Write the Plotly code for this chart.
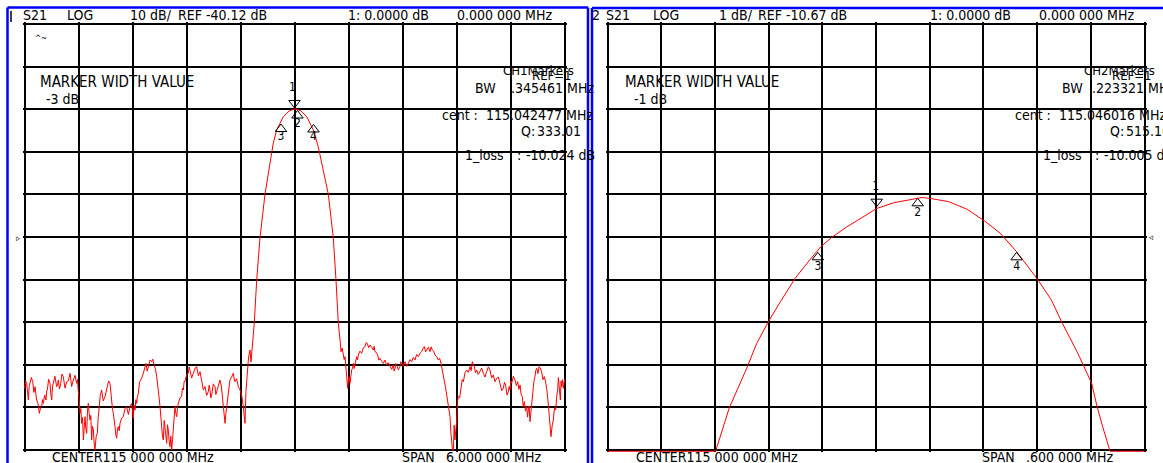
import plotly.graph_objects as go

W, H = 1163, 463

# ---------------- DATA ----------------
# CH1: S21 LOG, 10 dB/div, REF -40.12 dB, center 115 MHz, span 6 MHz  (freq MHz, dB)
ch1_points = [
    (112.000, -75.65), (112.012, -73.9), (112.024, -74.47), (112.034, -77.0), (112.043, -78.38),
    (112.052, -75.2), (112.061, -74.47), (112.076, -73.1), (112.091, -74.08), (112.104, -76.6),
    (112.117, -75.25), (112.126, -77.5), (112.135, -78.38), (112.150, -79.2), (112.165, -81.51),
    (112.178, -80.2), (112.191, -79.95), (112.200, -78.3), (112.209, -79.17), (112.224, -77.2),
    (112.239, -78.38), (112.247, -76.2), (112.254, -76.04), (112.268, -73.5), (112.283, -74.47),
    (112.292, -76.9), (112.302, -78.38), (112.311, -75.3), (112.320, -74.47), (112.338, -72.8),
    (112.357, -75.25), (112.366, -74.9), (112.376, -73.69), (112.389, -75.8), (112.402, -74.47),
    (112.416, -72.3), (112.431, -72.91), (112.450, -75.6), (112.469, -74.08), (112.487, -73.9),
    (112.506, -72.12), (112.524, -75.2), (112.543, -73.69), (112.561, -72.6), (112.580, -74.47),
    (112.589, -73.6), (112.598, -76.43), (112.607, -78.0), (112.617, -81.51), (112.626, -80.4),
    (112.635, -83.86), (112.645, -82.5), (112.654, -87.77), (112.663, -84.0), (112.672, -82.30),
    (112.681, -85.0), (112.691, -86.21), (112.700, -81.0), (112.709, -79.17), (112.718, -81.5),
    (112.728, -83.08), (112.737, -82.0), (112.746, -87.77), (112.755, -84.5), (112.765, -85.43),
    (112.774, -88.5), (112.783, -90.12), (112.796, -87.0), (112.809, -86.21), (112.818, -82.8),
    (112.828, -79.56), (112.842, -77.3), (112.857, -76.04), (112.875, -78.6), (112.894, -77.60),
    (112.907, -76.2), (112.920, -75.65), (112.935, -73.9), (112.950, -74.47), (112.959, -76.9),
    (112.969, -77.99), (112.978, -80.6), (112.987, -81.51), (112.996, -83.9), (113.006, -84.64),
    (113.015, -86.6), (113.024, -87.38), (113.033, -85.2), (113.043, -84.64), (113.052, -85.6),
    (113.061, -83.86), (113.080, -82.6), (113.098, -82.30), (113.117, -80.4), (113.135, -79.95),
    (113.154, -81.8), (113.172, -79.95), (113.190, -79.2), (113.209, -82.69), (113.218, -79.6),
    (113.228, -80.73), (113.237, -78.3), (113.246, -79.17), (113.255, -77.5), (113.265, -76.82),
    (113.278, -74.2), (113.291, -73.69), (113.305, -73.1), (113.320, -72.12), (113.335, -70.5),
    (113.350, -69.78), (113.363, -71.6), (113.376, -70.56), (113.395, -69.0), (113.413, -69.39),
    (113.426, -68.8), (113.439, -70.17), (113.454, -71.0), (113.469, -72.91), (113.478, -74.4),
    (113.487, -75.25), (113.497, -78.1), (113.506, -79.95), (113.515, -81.6), (113.524, -84.64),
    (113.533, -86.9), (113.543, -87.77), (113.552, -83.2), (113.561, -84.64), (113.570, -86.3),
    (113.580, -88.56), (113.589, -84.2), (113.598, -85.43), (113.607, -88.0), (113.617, -89.34),
    (113.626, -86.9), (113.635, -90.12), (113.645, -87.6), (113.654, -84.64), (113.663, -81.2),
    (113.672, -79.95), (113.681, -81.4), (113.691, -82.30), (113.700, -80.4), (113.709, -79.17),
    (113.728, -77.9), (113.746, -77.60), (113.755, -75.6), (113.765, -76.04), (113.774, -74.0),
    (113.783, -74.08), (113.802, -72.4), (113.820, -72.12), (113.830, -70.6), (113.839, -71.34),
    (113.857, -73.2), (113.876, -72.12), (113.895, -70.9), (113.913, -70.56), (113.932, -72.7),
    (113.950, -71.73), (113.960, -73.1), (113.969, -73.69), (113.987, -76.0), (114.006, -75.25),
    (114.024, -77.3), (114.043, -76.43), (114.052, -74.9), (114.061, -76.04), (114.070, -77.9),
    (114.080, -77.21), (114.098, -74.6), (114.117, -75.25), (114.126, -77.1), (114.135, -76.43),
    (114.154, -74.9), (114.172, -73.69), (114.187, -75.1), (114.202, -77.99), (114.215, -80.2),
    (114.228, -83.86), (114.237, -81.6), (114.246, -79.95), (114.255, -78.6), (114.265, -77.21),
    (114.274, -74.9), (114.283, -73.69), (114.301, -73.0), (114.320, -72.12), (114.329, -73.4),
    (114.339, -74.08), (114.357, -73.4), (114.376, -75.25), (114.394, -76.0), (114.413, -77.21),
    (114.431, -79.95), (114.450, -83.86), (114.460, -76.5), (114.469, -72.91), (114.487, -68.99),
    (114.496, -67.6), (114.506, -66.65), (114.517, -69.46), (114.536, -65.47),
    # main passband lobe
    (114.553, -60.31), (114.580, -50.21), (114.617, -40.28), (114.672, -30.10), (114.764, -18.12),
    (114.802, -15.00), (114.876, -11.88), (114.940, -10.55), (115.006, -10.02), (115.070, -10.50),
    (115.136, -11.88), (115.209, -15.00), (115.264, -18.92), (115.376, -30.10), (115.431, -40.28),
    (115.461, -50.21), (115.487, -60.38), (115.510, -65.08),
    # upper stopband
    (115.517, -67.04), (115.530, -66.2), (115.543, -67.43), (115.552, -68.9), (115.561, -68.21),
    (115.570, -70.5), (115.580, -72.12), (115.591, -75.64), (115.598, -73.8), (115.606, -72.90),
    (115.617, -74.47), (115.626, -72.5), (115.635, -71.34), (115.645, -70.9), (115.654, -69.77),
    (115.663, -71.0), (115.672, -70.17), (115.681, -68.6), (115.691, -68.21), (115.700, -69.0),
    (115.709, -67.82), (115.727, -66.9), (115.746, -67.43), (115.765, -66.1), (115.783, -65.86),
    (115.796, -64.9), (115.809, -65.08), (115.824, -66.1), (115.839, -65.47), (115.857, -66.0),
    (115.876, -66.64), (115.885, -65.8), (115.894, -67.04), (115.909, -67.2), (115.924, -67.82),
    (115.937, -69.0), (115.950, -68.60), (115.968, -69.3), (115.987, -69.77), (116.005, -69.0),
    (116.024, -70.17), (116.042, -69.6), (116.061, -70.56), (116.080, -71.2), (116.098, -70.17),
    (116.107, -71.6), (116.117, -70.95), (116.126, -69.8), (116.135, -70.17), (116.154, -71.3),
    (116.172, -70.56), (116.182, -69.4), (116.191, -69.77), (116.210, -70.4), (116.228, -69.38),
    (116.246, -70.5), (116.265, -69.77), (116.283, -68.9), (116.302, -69.38), (116.320, -68.4),
    (116.339, -68.99), (116.357, -67.7), (116.376, -68.21), (116.395, -67.4), (116.413, -67.04),
    (116.428, -66.2), (116.443, -65.86), (116.456, -67.1), (116.469, -66.64), (116.488, -66.0),
    (116.506, -67.04), (116.518, -65.9), (116.531, -66.64), (116.546, -66.9), (116.561, -67.82),
    (116.580, -68.2), (116.598, -68.99), (116.613, -68.6), (116.628, -69.77), (116.641, -71.0),
    (116.654, -72.90), (116.667, -74.2), (116.680, -75.64), (116.691, -77.4), (116.702, -78.38),
    (116.715, -80.9), (116.728, -82.29), (116.737, -85.9), (116.746, -88.55), (116.755, -90.12),
    (116.765, -90.12), (116.774, -84.3), (116.783, -87.77), (116.792, -85.6), (116.802, -83.08),
    (116.811, -78.9), (116.820, -77.60), (116.835, -77.9), (116.850, -76.03), (116.863, -73.6),
    (116.876, -74.08), (116.895, -72.0), (116.913, -71.34), (116.931, -71.9), (116.950, -70.56),
    (116.963, -71.5), (116.976, -69.38), (116.987, -70.1), (116.998, -70.56), (117.011, -72.0),
    (117.024, -71.34), (117.042, -72.4), (117.061, -71.73), (117.080, -70.9), (117.098, -72.12),
    (117.117, -73.0), (117.135, -71.73), (117.154, -70.6), (117.172, -71.34), (117.190, -73.2),
    (117.209, -72.51), (117.228, -74.1), (117.246, -73.30), (117.265, -73.0), (117.283, -74.47),
    (117.302, -76.2), (117.320, -75.64), (117.333, -74.2), (117.346, -74.86), (117.361, -77.2),
    (117.376, -76.43), (117.385, -75.2), (117.394, -76.03), (117.404, -73.9), (117.413, -74.47),
    (117.432, -72.8), (117.450, -73.69), (117.465, -75.0), (117.480, -74.08), (117.493, -75.9),
    (117.506, -74.86), (117.518, -77.0), (117.531, -77.60), (117.542, -80.0), (117.554, -78.77),
    (117.567, -81.0), (117.580, -79.95), (117.589, -82.4), (117.598, -80.73), (117.607, -79.8),
    (117.617, -83.47), (117.626, -81.0), (117.635, -79.56), (117.645, -76.9), (117.654, -75.25),
    (117.663, -73.6), (117.672, -72.90), (117.681, -71.4), (117.691, -70.95), (117.704, -72.2),
    (117.717, -70.56), (117.731, -70.9), (117.746, -71.73), (117.761, -73.6), (117.776, -72.90),
    (117.789, -74.1), (117.802, -75.64), (117.815, -78.2), (117.828, -81.51), (117.839, -84.6),
    (117.850, -86.99), (117.863, -84.4), (117.876, -83.08), (117.889, -80.2), (117.902, -80.73),
    (117.913, -77.6), (117.924, -76.03), (117.932, -73.1), (117.939, -74.47), (117.947, -76.3),
    (117.954, -78.38), (117.962, -73.9), (117.969, -75.25), (117.978, -73.6), (117.987, -75.64),
    (118.000, -73.50),
]
ch1_freq = [p[0] for p in ch1_points]
ch1_db = [p[1] for p in ch1_points]

# CH1 marker symbols (freq, dB) and labels
ch1_mk_freq = [115.000, 115.033, 114.850, 115.211]
ch1_mk_db = [-8.66, -11.60, -14.77, -14.88]
ch1_lbl_freq = [114.978, 115.033, 114.850, 115.211]
ch1_lbl_db = [-5.14, -13.71, -16.76, -16.76]

# CH2: S21 LOG, 1 dB/div, REF -10.67 dB, center 115 MHz, span 0.6 MHz
ch2_points = [
    (114.7000, -15.70), (114.8208, -15.70), (114.8359, -14.69), (114.8564, -13.71), (114.8666, -13.17),
    (114.8797, -12.66), (114.8932, -12.19), (114.9096, -11.64), (114.9259, -11.21), (114.9382, -10.90),
    (114.9505, -10.68), (114.9668, -10.44), (114.9832, -10.23), (115.0008, -10.00), (115.0200, -9.865),
    (115.0405, -9.778), (115.0514, -9.743), (115.0609, -9.766), (115.0813, -9.841), (115.1018, -10.02),
    (115.1211, -10.29), (115.1387, -10.58), (115.1571, -11.015), (115.1804, -11.66), (115.1960, -12.15),
    (115.2083, -12.70), (115.2246, -13.36), (115.2409, -14.10), (115.2470, -14.65), (115.2532, -15.12),
    (115.2615, -15.70), (115.3000, -15.70),
]
ch2_freq = [p[0] for p in ch2_points]
ch2_db = [p[1] for p in ch2_points]

ch2_mk_freq = [115.0008, 115.0466, 114.9350, 115.1571]
ch2_mk_db = [-9.841, -9.879, -11.147, -11.147]
ch2_lbl_freq = [114.9996, 115.0466, 114.9350, 115.1571]
ch2_lbl_db = [-9.503, -10.114, -11.367, -11.367]

marker_labels = ["1", "2", "3", "4"]

# ---------------- FIGURE ----------------
FONT = "DejaVu Sans Condensed, Liberation Sans Narrow, sans-serif"
RED = "#ff0000"
BLUE = "#0000ff"

fig = go.Figure()

fig.add_trace(go.Scatter(x=ch1_freq, y=ch1_db, mode="lines",
                         line=dict(color=RED, width=1), xaxis="x", yaxis="y",
                         showlegend=False, hoverinfo="skip"))
fig.add_trace(go.Scatter(x=ch2_freq, y=ch2_db, mode="lines",
                         line=dict(color=RED, width=1), xaxis="x2", yaxis="y2",
                         showlegend=False, hoverinfo="skip"))

symbols = ["triangle-down-open", "triangle-up-open", "triangle-up-open", "triangle-up-open"]
for xs, ys, lx, ly, ax, ay in [
    (ch1_mk_freq, ch1_mk_db, ch1_lbl_freq, ch1_lbl_db, "x", "y"),
    (ch2_mk_freq, ch2_mk_db, ch2_lbl_freq, ch2_lbl_db, "x2", "y2"),
]:
    fig.add_trace(go.Scatter(x=xs, y=ys, mode="markers", xaxis=ax, yaxis=ay,
                             marker=dict(symbol=symbols, size=10, color="black",
                                         line=dict(color="black", width=1)),
                             showlegend=False, hoverinfo="skip"))
    fig.add_trace(go.Scatter(x=lx, y=ly, mode="text", text=marker_labels, xaxis=ax, yaxis=ay,
                             textfont=dict(family=FONT, size=12, color="black"),
                             textposition="middle center",
                             showlegend=False, hoverinfo="skip"))


def dom_x(p0, p1):
    return [p0 / W, p1 / W]


def dom_y(p_top, p_bot):
    return [(H - p_bot) / H, (H - p_top) / H]


grid_common = dict(showgrid=True, gridcolor="black", gridwidth=2, zeroline=False,
                   showticklabels=False, ticks="", showline=False, fixedrange=True)

# ranges extended by 2 px so the edge grid lines are fully drawn
fig.update_layout(
    xaxis=dict(domain=dom_x(22.5, 566.5), range=[112 - 2 / 90, 118 + 2 / 90],
               tick0=112, dtick=0.6, **grid_common),
    yaxis=dict(domain=dom_y(22, 452), range=[-90.12 - 2 * 0.2347, 9.88 + 2 * 0.2347],
               tick0=-90.12, dtick=10, **grid_common),
    xaxis2=dict(domain=dom_x(605.5, 1146.5), range=[114.7 - 2 / 895, 115.3 + 2 / 895],
                tick0=114.7, dtick=0.06, anchor="y2", **grid_common),
    yaxis2=dict(domain=dom_y(22, 452), range=[-15.67 - 2 * 0.02347, -5.67 + 2 * 0.02347],
                tick0=-15.67, dtick=1, anchor="x2", **grid_common),
    width=W, height=H,
    margin=dict(l=0, r=0, t=0, b=0),
    paper_bgcolor="white", plot_bgcolor="white",
    showlegend=False,
)

# ---------------- TEXT ----------------
texts = [
    # left screen
    ("S21", 21, 15, 14), ("LOG", 65, 15, 14), ("10 dB/", 128, 15, 14), ("REF -40.12 dB", 176, 15, 14),
    ("1: 0.0000 dB", 346, 15, 14), ("0.000 000 MHz", 455, 15, 14),
    ("MARKER WIDTH VALUE", 38, 82, 15), ("-3 dB", 44, 99, 14),
    ("CH1Markers", 501, 70, 13), ("REF=1", 530, 76, 13),
    ("BW", 473, 88, 14), (".345461 MHz", 509, 88, 14),
    ("cent :", 440, 115, 14), ("115.042477 MHz", 484, 115, 14),
    ("Q:", 519, 131, 14), ("333.01", 535, 131, 14),
    ("1_loss", 463, 155, 14), (":", 515, 155, 14), ("-10.024 dB", 524, 155, 14),
    ("CENTER115 000 000 MHz", 50, 457, 14), ("SPAN", 400, 457, 14), ("6.000 000 MHz", 444, 457, 14),
    # right screen
    ("2", 590, 15, 14), ("S21", 604, 15, 14), ("LOG", 651, 15, 14), ("1 dB/", 717, 15, 14),
    ("REF -10.67 dB", 756, 15, 14), ("1: 0.0000 dB", 928, 15, 14), ("0.000 000 MHz", 1037, 15, 14),
    ("MARKER WIDTH VALUE", 623, 82, 15), ("-1 dB", 632, 99, 14),
    ("CH2Markers", 1082, 70, 13), ("REF=1", 1110, 76, 13),
    ("BW", 1060, 88, 14), (".223321 MHz", 1090, 88, 14),
    ("cent :", 1013, 115, 14), ("115.046016 MHz", 1057, 115, 14),
    ("Q:", 1108, 131, 14), ("515.16", 1124, 131, 14),
    ("1_loss", 1041, 155, 14), (":", 1093, 155, 14), ("-10.005 dB", 1102, 155, 14),
    ("CENTER115 000 000 MHz", 634, 457, 14), ("SPAN", 980, 457, 14), (".600 000 MHz", 1024, 457, 14),
    # small glyphs
    ("^~", 33, 38, 8), ("\u25b9", 14, 237.7, 9), ("\u25c3", 1146, 237.3, 9),
]
annotations = []
for t, px, py, fs in texts:
    annotations.append(dict(text=t, x=px / W, y=1 - py / H, xref="paper", yref="paper",
                            xanchor="left", yanchor="middle", showarrow=False,
                            font=dict(family=FONT, size=fs, color="black")))
fig.update_layout(annotations=annotations)


# ---------------- FRAMES (blue screen borders) ----------------
def pline(x0, y0, x1, y1, color, width):
    return dict(type="line", xref="paper", yref="paper",
                x0=x0 / W, y0=1 - y0 / H, x1=x1 / W, y1=1 - y1 / H,
                line=dict(color=color, width=width), layer="above")


shapes = [
    pline(7.5, 7.5, 588, 7.5, BLUE, 2.5),
    pline(7.5, 7.5, 7.5, 463, BLUE, 2.5),
    pline(588, 7.5, 588, 463, BLUE, 2.5),
    pline(592, 8, 1163, 8, BLUE, 2.5),
    pline(592, 8, 592, 463, BLUE, 2.5),
    pline(11, 11, 11, 22, "black", 1.5),
]
fig.update_layout(shapes=shapes)

fig.write_html("out.html",
               config={"displayModeBar": False, "staticPlot": True},
               post_script="document.body.style.margin='0px';document.body.style.overflow='hidden';")
